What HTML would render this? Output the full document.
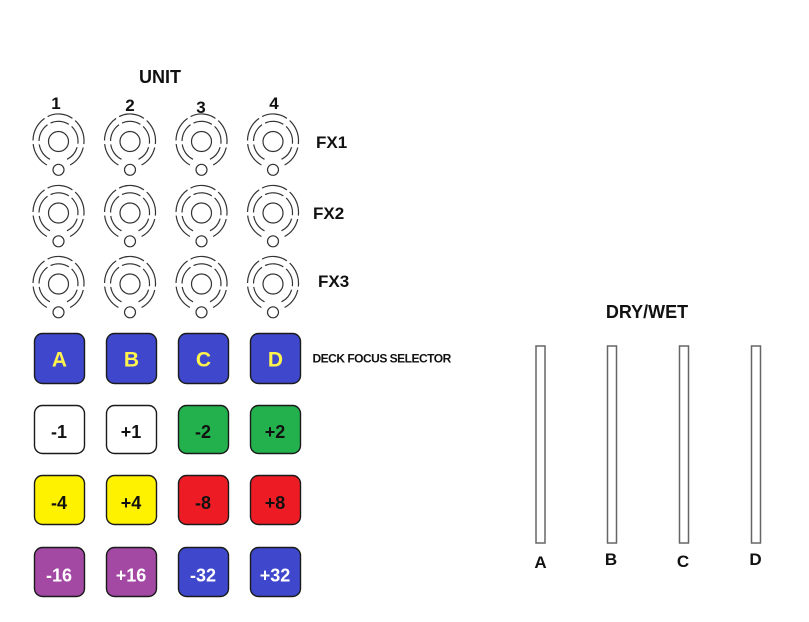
<!DOCTYPE html>
<html><head><meta charset="utf-8"><style>
html,body{margin:0;padding:0;background:#fff;}
svg{display:block;}
text{font-family:"Liberation Sans",sans-serif;font-weight:bold;}
</style></head><body>
<svg width="809" height="622" viewBox="0 0 809 622" xmlns="http://www.w3.org/2000/svg">
<rect width="809" height="622" fill="#fff"/>
<!-- header -->
<text x="160" y="83" font-size="18" text-anchor="middle" fill="#111">UNIT</text>
<text x="56" y="109" font-size="17" text-anchor="middle" fill="#111">1</text>
<text x="130" y="111" font-size="17" text-anchor="middle" fill="#111">2</text>
<text x="201" y="113" font-size="17" text-anchor="middle" fill="#111">3</text>
<text x="274" y="109" font-size="17" text-anchor="middle" fill="#111">4</text>

<!-- knobs -->
<g fill="none" stroke="#333" stroke-width="1.2">
<g transform="translate(58.5,141.5)"><path d="M-11.6 23.5 A25.5 27 0 1 1 11.6 23.5" stroke-dasharray="26 3.5"/><path d="M-8.5 17.8 A19.5 20 0 1 1 8.5 17.8" stroke-dasharray="19 3.5"/><circle r="10"/><circle cy="28.3" r="5.5"/></g>
<g transform="translate(130,141.5)"><path d="M-11.6 23.5 A25.5 27 0 1 1 11.6 23.5" stroke-dasharray="26 3.5"/><path d="M-8.5 17.8 A19.5 20 0 1 1 8.5 17.8" stroke-dasharray="19 3.5"/><circle r="10"/><circle cy="28.3" r="5.5"/></g>
<g transform="translate(201.5,141.5)"><path d="M-11.6 23.5 A25.5 27 0 1 1 11.6 23.5" stroke-dasharray="26 3.5"/><path d="M-8.5 17.8 A19.5 20 0 1 1 8.5 17.8" stroke-dasharray="19 3.5"/><circle r="10"/><circle cy="28.3" r="5.5"/></g>
<g transform="translate(273,141.5)"><path d="M-11.6 23.5 A25.5 27 0 1 1 11.6 23.5" stroke-dasharray="26 3.5"/><path d="M-8.5 17.8 A19.5 20 0 1 1 8.5 17.8" stroke-dasharray="19 3.5"/><circle r="10"/><circle cy="28.3" r="5.5"/></g>

<g transform="translate(58.5,213)"><path d="M-11.6 23.5 A25.5 27 0 1 1 11.6 23.5" stroke-dasharray="26 3.5"/><path d="M-8.5 17.8 A19.5 20 0 1 1 8.5 17.8" stroke-dasharray="19 3.5"/><circle r="10"/><circle cy="28.3" r="5.5"/></g>
<g transform="translate(130,213)"><path d="M-11.6 23.5 A25.5 27 0 1 1 11.6 23.5" stroke-dasharray="26 3.5"/><path d="M-8.5 17.8 A19.5 20 0 1 1 8.5 17.8" stroke-dasharray="19 3.5"/><circle r="10"/><circle cy="28.3" r="5.5"/></g>
<g transform="translate(201.5,213)"><path d="M-11.6 23.5 A25.5 27 0 1 1 11.6 23.5" stroke-dasharray="26 3.5"/><path d="M-8.5 17.8 A19.5 20 0 1 1 8.5 17.8" stroke-dasharray="19 3.5"/><circle r="10"/><circle cy="28.3" r="5.5"/></g>
<g transform="translate(273,213)"><path d="M-11.6 23.5 A25.5 27 0 1 1 11.6 23.5" stroke-dasharray="26 3.5"/><path d="M-8.5 17.8 A19.5 20 0 1 1 8.5 17.8" stroke-dasharray="19 3.5"/><circle r="10"/><circle cy="28.3" r="5.5"/></g>

<g transform="translate(58.5,284)"><path d="M-11.6 23.5 A25.5 27 0 1 1 11.6 23.5" stroke-dasharray="26 3.5"/><path d="M-8.5 17.8 A19.5 20 0 1 1 8.5 17.8" stroke-dasharray="19 3.5"/><circle r="10"/><circle cy="28.3" r="5.5"/></g>
<g transform="translate(130,284)"><path d="M-11.6 23.5 A25.5 27 0 1 1 11.6 23.5" stroke-dasharray="26 3.5"/><path d="M-8.5 17.8 A19.5 20 0 1 1 8.5 17.8" stroke-dasharray="19 3.5"/><circle r="10"/><circle cy="28.3" r="5.5"/></g>
<g transform="translate(201.5,284)"><path d="M-11.6 23.5 A25.5 27 0 1 1 11.6 23.5" stroke-dasharray="26 3.5"/><path d="M-8.5 17.8 A19.5 20 0 1 1 8.5 17.8" stroke-dasharray="19 3.5"/><circle r="10"/><circle cy="28.3" r="5.5"/></g>
<g transform="translate(273,284)"><path d="M-11.6 23.5 A25.5 27 0 1 1 11.6 23.5" stroke-dasharray="26 3.5"/><path d="M-8.5 17.8 A19.5 20 0 1 1 8.5 17.8" stroke-dasharray="19 3.5"/><circle r="10"/><circle cy="28.3" r="5.5"/></g>
</g>

<text x="316" y="148" font-size="17" fill="#111">FX1</text>
<text x="313" y="219" font-size="17" fill="#111">FX2</text>
<text x="318" y="287" font-size="17" fill="#111">FX3</text>

<!-- buttons -->
<g stroke="#1a1a1a" stroke-width="1.4">
<rect x="34.5" y="333.5" width="50" height="50" rx="8" fill="#3f48cc"/>
<rect x="106.5" y="333.5" width="50" height="50" rx="8" fill="#3f48cc"/>
<rect x="178.5" y="333.5" width="50" height="50" rx="8" fill="#3f48cc"/>
<rect x="250.5" y="333.5" width="50" height="50" rx="8" fill="#3f48cc"/>

<rect x="34.5" y="405.5" width="50" height="48" rx="8" fill="#fff"/>
<rect x="106.5" y="405.5" width="50" height="48" rx="8" fill="#fff"/>
<rect x="178.5" y="405.5" width="50" height="48" rx="8" fill="#22b14c"/>
<rect x="250.5" y="405.5" width="50" height="48" rx="8" fill="#22b14c"/>

<rect x="34.5" y="475.5" width="50" height="49" rx="8" fill="#fff200"/>
<rect x="106.5" y="475.5" width="50" height="49" rx="8" fill="#fff200"/>
<rect x="178.5" y="475.5" width="50" height="49" rx="8" fill="#ed1c24"/>
<rect x="250.5" y="475.5" width="50" height="49" rx="8" fill="#ed1c24"/>

<rect x="34.5" y="547.5" width="50" height="49" rx="8" fill="#a349a4"/>
<rect x="106.5" y="547.5" width="50" height="49" rx="8" fill="#a349a4"/>
<rect x="178.5" y="547.5" width="50" height="49" rx="8" fill="#3f48cc"/>
<rect x="250.5" y="547.5" width="50" height="49" rx="8" fill="#3f48cc"/>
</g>

<g font-size="21" fill="#fff34d" text-anchor="middle">
<text x="59.5" y="366.5">A</text>
<text x="131.5" y="366.5">B</text>
<text x="203.5" y="366.5">C</text>
<text x="275.5" y="366.5">D</text>
</g>
<g font-size="18" text-anchor="middle" fill="#111">
<text x="59" y="438">-1</text>
<text x="131" y="438">+1</text>
<text x="203" y="438">-2</text>
<text x="275" y="438">+2</text>
<text x="59" y="509">-4</text>
<text x="131" y="509">+4</text>
<text x="203" y="509">-8</text>
<text x="275" y="509">+8</text>
</g>
<g font-size="18" text-anchor="middle" fill="#fff">
<text x="59" y="581.5">-16</text>
<text x="131" y="581.5">+16</text>
<text x="203" y="581.5">-32</text>
<text x="275" y="581.5">+32</text>
</g>

<text x="312.5" y="362.5" font-size="12" letter-spacing="-0.5" fill="#111">DECK FOCUS SELECTOR</text>

<!-- dry/wet -->
<text x="647" y="318" font-size="18" text-anchor="middle" fill="#111">DRY/WET</text>
<g fill="#fff" stroke="#666" stroke-width="1.5">
<rect x="536" y="346" width="9" height="197"/>
<rect x="607.5" y="346" width="9" height="197"/>
<rect x="679.5" y="346" width="9" height="197"/>
<rect x="751.5" y="346" width="9" height="197"/>
</g>
<g font-size="17" text-anchor="middle" fill="#111">
<text x="540.5" y="568">A</text>
<text x="611" y="565">B</text>
<text x="683" y="567">C</text>
<text x="755.5" y="565">D</text>
</g>
</svg>
</body></html>
